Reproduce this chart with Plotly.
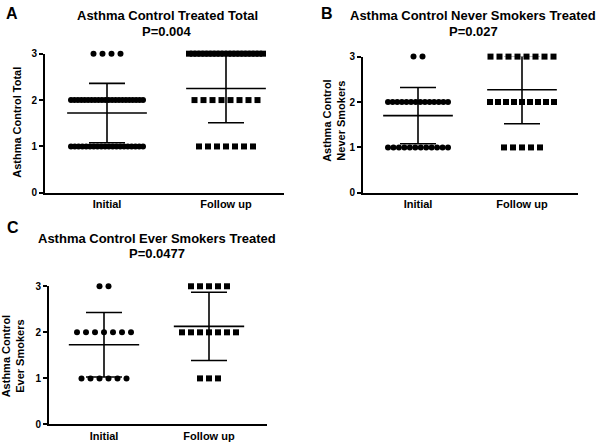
import numpy as np
import plotly.graph_objects as go

W, H = 600, 447

groups = ["Initial", "Follow up"]
levels = [3, 2, 1]

# visible points per score level (3, 2, 1)
a_initial_counts = [4, 22, 20]
a_follow_counts = [20, 8, 7]
b_initial_counts = [2, 14, 12]
b_follow_counts = [8, 9, 5]
c_initial_counts = [2, 7, 6]
c_follow_counts = [5, 7, 3]

# mean and SD
a_means = [1.72, 2.25]
a_sds = [0.64, 0.74]
b_means = [1.70, 2.27]
b_sds = [0.62, 0.75]
c_means = [1.73, 2.13]
c_sds = [0.70, 0.74]

titles = ["Asthma Control Treated Total", "Asthma Control Never Smokers Treated",
          "Asthma Control Ever Smokers Treated"]
pvalues = ["P=0.004", "P=0.027", "P=0.0477"]
ytitles = ["Asthma Control Total", "Asthma Control<br>Never Smokers",
           "Asthma Control<br>Ever Smokers"]
letters = ["A", "B", "C"]
yticks = [0, 1, 2, 3]

FONT = "Arial, Liberation Sans, sans-serif"

# layout (pixels): left, right, top, bottom, x of Initial, x of Follow up
panels = [
    dict(px=(45, 284, 49, 192, 107, 226), counts=(a_initial_counts, a_follow_counts),
         means=a_means, sds=a_sds, maxhalf=(36, 37), title_xy=(167, 10, 26),
         ytitle_xy=(17, 120), letter_xy=(12, 8)),
    dict(px=(363, 578, 52, 192, 418, 522), counts=(b_initial_counts, b_follow_counts),
         means=b_means, sds=b_sds, maxhalf=(30, 32), title_xy=(473, 10, 26),
         ytitle_xy=(334, 118), letter_xy=(327, 8)),
    dict(px=(49, 267, 288, 430, 104, 209), counts=(c_initial_counts, c_follow_counts),
         means=c_means, sds=c_sds, maxhalf=(32, 32), title_xy=(157, 239, 254),
         ytitle_xy=(13, 360), letter_xy=(13, 228)),
]

fig = go.Figure()
annotations = []
layout_axes = {}
STEP = 9.0

for k, p in enumerate(panels):
    L, R, T, B, xi, xf = p["px"]
    unit = xf - xi
    xr = [-(xi - L) / unit, 1 + (R - xf) / unit]
    sfx = "" if k == 0 else str(k + 1)
    xa, ya = "x" + sfx, "y" + sfx
    for g in range(2):
        xs, ys = [], []
        for lev, n in zip(levels, p["counts"][g]):
            half = min((n - 1) * STEP / 2, p["maxhalf"][g])
            offs = np.linspace(-half, half, n) / unit if n > 1 else np.array([0.0])
            xs += list(g + offs)
            ys += [lev] * n
        fig.add_trace(go.Scatter(
            x=xs, y=ys, mode="markers", xaxis=xa, yaxis=ya, cliponaxis=False,
            marker=dict(symbol="circle" if g == 0 else "square", size=6,
                        color="black", line=dict(width=0)),
            showlegend=False, hoverinfo="skip"))
    for g in range(2):
        m, s = p["means"][g], p["sds"][g]
        fig.add_trace(go.Scatter(
            x=[g - 0.335, g + 0.335], y=[m, m], mode="lines", xaxis=xa, yaxis=ya,
            line=dict(color="black", width=1.6), showlegend=False, hoverinfo="skip",
            cliponaxis=False))
        fig.add_trace(go.Scatter(
            x=[g], y=[m], mode="markers", xaxis=xa, yaxis=ya, cliponaxis=False,
            marker=dict(size=0.1, color="rgba(0,0,0,0)"),
            error_y=dict(type="data", array=[s], visible=True, color="black",
                         thickness=1.6, width=18),
            showlegend=False, hoverinfo="skip"))
    layout_axes["xaxis" + sfx] = dict(
        domain=[L / W, R / W], range=xr, anchor=ya, showline=True, linecolor="black",
        linewidth=2, showgrid=False, zeroline=False, tickmode="array", tickvals=[0, 1],
        ticktext=groups, ticks="", tickfont=dict(family=FONT, size=11, color="black", weight="bold"),
        fixedrange=True)
    layout_axes["yaxis" + sfx] = dict(
        domain=[1 - B / H, 1 - T / H], range=[0, 3], anchor=xa, showline=True,
        linecolor="black", linewidth=2, showgrid=False, zeroline=False, tickmode="array",
        tickvals=yticks, ticks="outside", ticklen=4, tickwidth=1.5, tickcolor="black",
        tickfont=dict(family=FONT, size=10, color="black", weight="bold"), fixedrange=True)
    tx, ty1, ty2 = p["title_xy"]
    annotations.append(dict(x=tx / W, y=1 - ty1 / H, xref="paper", yref="paper",
                            text=titles[k], showarrow=False, xanchor="center", yanchor="middle",
                            font=dict(family=FONT, size=13, color="black", weight="bold")))
    annotations.append(dict(x=tx / W, y=1 - ty2 / H, xref="paper", yref="paper",
                            text=pvalues[k], showarrow=False, xanchor="center", yanchor="middle",
                            font=dict(family=FONT, size=13, color="black", weight="bold")))
    yx, yy = p["ytitle_xy"]
    annotations.append(dict(x=yx / W, y=1 - yy / H, xref="paper", yref="paper",
                            text=ytitles[k], showarrow=False, textangle=-90,
                            xanchor="center", yanchor="middle",
                            font=dict(family=FONT, size=11, color="black", weight="bold")))
    lx, ly = p["letter_xy"]
    annotations.append(dict(x=lx / W, y=1 - ly / H, xref="paper", yref="paper",
                            text=letters[k], showarrow=False, xanchor="center", yanchor="middle",
                            font=dict(family=FONT, size=16, color="black", weight="bold")))

fig.update_layout(width=W, height=H, margin=dict(l=0, r=0, t=0, b=0),
                  paper_bgcolor="white", plot_bgcolor="white",
                  annotations=annotations, **layout_axes)
fig.write_html("out.html", config={"displayModeBar": False},
               post_script="document.body.style.margin='0px';document.body.style.overflow='hidden';")
